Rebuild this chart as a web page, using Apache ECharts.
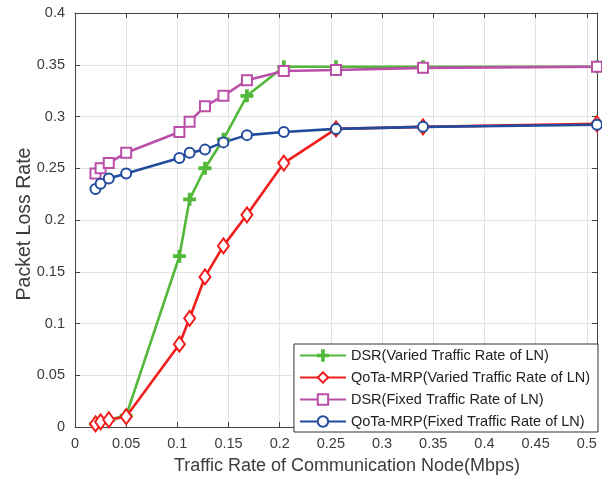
<!DOCTYPE html>
<html>
<head>
<meta charset="utf-8">
<script src="https://cdn.jsdelivr.net/npm/echarts@6/dist/echarts.min.js"></script>
<style>
  html, body { margin: 0; padding: 0; background: #fff; }
  #lossChart { width: 602px; height: 481px; }
</style>
</head>
<body>
<div id="lossChart"></div>
<script>
// traffic rate of the communication node (Mbps)
const rates = [0.02, 0.025, 0.033, 0.05, 0.102, 0.112, 0.127, 0.145, 0.168, 0.204, 0.255, 0.34, 0.51];

// packet loss rate per series
const dsrVaried = [0.003, 0.005, 0.007, 0.011, 0.165, 0.22, 0.25, 0.278, 0.32, 0.348, 0.348, 0.348, 0.348];
const qotaVaried = [0.003, 0.005, 0.007, 0.01, 0.08, 0.105, 0.145, 0.175, 0.205, 0.255, 0.288, 0.29, 0.293];
const dsrFixed = [0.245, 0.25, 0.255, 0.265, 0.285, 0.295, 0.31, 0.32, 0.335, 0.344, 0.345, 0.347, 0.348];
const qotaFixed = [0.23, 0.235, 0.24, 0.245, 0.26, 0.265, 0.268, 0.275, 0.282, 0.285, 0.288, 0.29, 0.292];

const seriesNames = [
  'DSR(Varied Traffic Rate of LN)',
  'QoTa-MRP(Varied Traffic Rate of LN)',
  'DSR(Fixed Traffic Rate of LN)',
  'QoTa-MRP(Fixed Traffic Rate of LN)',
];

const font = 'Liberation Sans, Arial, Helvetica, sans-serif';
const axisColor = '#444444';
const textColor = '#3c3c3c';
const gridColor = '#e3e3e3';

// plus marker as a filled cross
const plusPath = 'path://M4.2,0H5.8V4.2H10V5.8H5.8V10H4.2V5.8H0V4.2H4.2Z';

const pairs = ys => rates.map((x, i) => [x, ys[i]]);

const makeLine = (name, ys, color, symbol, symbolSize) => ({
  name,
  type: 'line',
  data: pairs(ys),
  symbol,
  symbolSize,
  showAllSymbol: true,
  lineStyle: { color, width: 2.6 },
  itemStyle: { color, borderColor: color, borderWidth: 2 },
  emphasis: { disabled: true },
  z: 3,
});

const myChart = echarts.init(document.querySelector('#lossChart'), null, { renderer: 'canvas' });

const boxAxisX = {
  type: 'value',
  min: 0,
  max: 0.51,
  interval: 0.05,
  axisLine: { show: true, onZero: false, lineStyle: { color: axisColor, width: 1 } },
  axisTick: { show: true, inside: true, length: 5, lineStyle: { color: axisColor } },
};

const boxAxisY = {
  type: 'value',
  min: 0,
  max: 0.4,
  interval: 0.05,
  axisLine: { show: true, onZero: false, lineStyle: { color: axisColor, width: 1 } },
  axisTick: { show: true, inside: true, length: 5, lineStyle: { color: axisColor } },
};

const option = {
  animation: false,
  backgroundColor: '#fff',
  textStyle: { fontFamily: font },
  grid: {
    left: 75,
    right: 5,
    top: 13,
    bottom: 54,
    containLabel: false,
    outerBoundsMode: 'none',
  },
  legend: {
    data: seriesNames,
    orient: 'vertical',
    right: 4,
    top: 344,
    itemWidth: 46,
    itemHeight: 13,
    itemGap: 7,
    padding: [4, 8, 3, 5],
    backgroundColor: '#fff',
    borderColor: '#333',
    borderWidth: 1,
    borderRadius: 0,
    textStyle: { fontFamily: font, fontSize: 14.5, color: '#222' },
  },
  xAxis: [
    {
      ...boxAxisX,
      position: 'bottom',
      name: 'Traffic Rate of Communication Node(Mbps)',
      nameLocation: 'middle',
      nameGap: 30,
      nameMoveOverlap: false,
      nameTextStyle: { fontFamily: font, fontSize: 18, color: textColor, padding: [0, 0, 0, 22] },
      axisLabel: {
        show: true,
        margin: 9,
        fontSize: 14.5,
        color: textColor,
        fontFamily: font,
        showMaxLabel: false,
      },
      splitLine: { show: true, lineStyle: { color: gridColor, width: 1 } },
    },
    {
      ...boxAxisX,
      position: 'top',
      axisLabel: { show: false },
      splitLine: { show: false },
    },
  ],
  yAxis: [
    {
      ...boxAxisY,
      position: 'left',
      name: 'Packet Loss Rate',
      nameLocation: 'middle',
      nameGap: 40,
      nameMoveOverlap: false,
      nameTextStyle: { fontFamily: font, fontSize: 19.5, color: textColor, padding: [0, 8, 0, 0] },
      axisLabel: {
        show: true,
        margin: 10,
        fontSize: 14.5,
        color: textColor,
        fontFamily: font,
      },
      splitLine: { show: true, lineStyle: { color: gridColor, width: 1 } },
    },
    {
      ...boxAxisY,
      position: 'right',
      axisLabel: { show: false },
      splitLine: { show: false },
    },
  ],
  series: [
    makeLine(seriesNames[0], dsrVaried, '#52b83a', plusPath, 11),
    makeLine(seriesNames[1], qotaVaried, '#f21d1d', 'emptyDiamond', [11, 15]),
    makeLine(seriesNames[2], dsrFixed, '#ba4fa8', 'emptyRect', 10),
    makeLine(seriesNames[3], qotaFixed, '#214c9e', 'emptyCircle', 10),
  ],
};

myChart.resize();
myChart.setOption(option);
</script>
</body>
</html>
